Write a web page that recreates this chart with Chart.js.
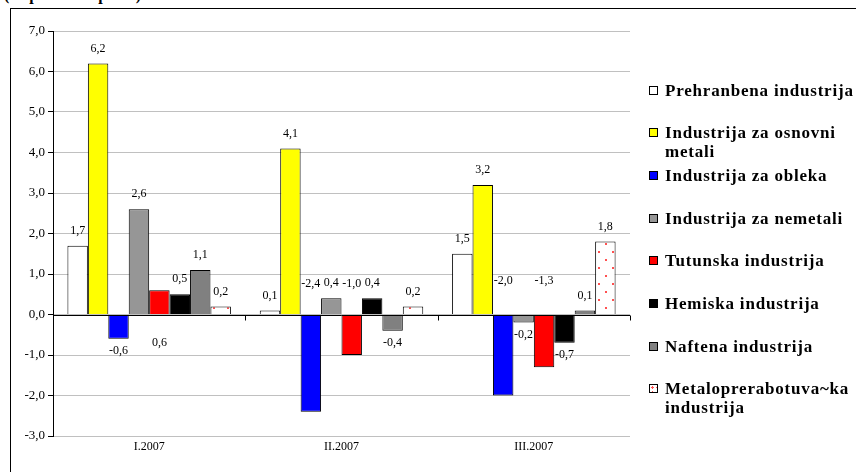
<!DOCTYPE html>
<html>
<head>
<meta charset="utf-8">
<script src="https://cdn.jsdelivr.net/npm/chart.js@4.4.1/dist/chart.umd.min.js"></script>
<style>
  html, body { margin: 0; padding: 0; background: #fff; overflow: hidden; }
  #wrap { position: relative; width: 856px; height: 472px; overflow: hidden; }
  #frame { position: absolute; left: 10px; top: 8px; width: 900px; height: 520px; border: 1px solid #000; box-sizing: border-box; }
  #title { position: absolute; left: 4px; top: -14px; font: bold 16px "Liberation Serif", serif; white-space: nowrap; }
  #myChart { position: absolute; left: 0; top: 0; }
  #legend { position: absolute; left: 0; top: 0; width: 856px; height: 472px; pointer-events: none; }
  .item { position: absolute; left: 649px; font: bold 17px "Liberation Serif", serif; letter-spacing: 0.8px; line-height: 19px; white-space: pre; color: #000; }
  .box { position: absolute; left: 0; top: 5px; width: 9px; height: 9px; border: 1px solid #000; box-sizing: border-box; }
  .txt { position: absolute; left: 16px; top: 0; }
</style>
</head>
<body>
<div id="wrap">
  <div id="frame"></div>
  <div id="title">(vo procenti i poeni)</div>
  <canvas id="myChart" width="856" height="472"></canvas>
  <div id="legend"></div>
</div>
<script>
// podatoci
const categories = ['I.2007', 'II.2007', 'III.2007'];
const seriesNames = [
    'Prehranbena industrija',
    'Industrija za osnovni\nmetali',
    'Industrija za obleka',
    'Industrija za nemetali',
    'Tutunska industrija',
    'Hemiska industrija',
    'Naftena industrija',
    'Metaloprerabotuva~ka\nindustrija'
];
const prehranbena = [1.7, 0.1, 1.5];
const osnovniMetali = [6.2, 4.1, 3.2];
const obleka = [-0.6, -2.4, -2.0];
const nemetali = [2.6, 0.4, -0.2];
const tutunska = [0.6, -1.0, -1.3];
const hemiska = [0.5, 0.4, -0.7];
const naftena = [1.1, -0.4, 0.1];
const metaloprerabotuvacka = [0.2, 0.2, 1.8];
const yTicks = [-3, -2, -1, 0, 1, 2, 3, 4, 5, 6, 7];

// etiketi sto vo originalot se pomesteni (dataset,indeks -> vrednost na y)
const labelAt = {
    '4,0': -0.7,
    '2,1': 0.75,
    '4,1': 0.75,
    '2,2': 0.82,
    '4,2': 0.82
};

function dots() {
    var c = document.createElement('canvas');
    c.width = 14; c.height = 16;
    var g = c.getContext('2d');
    g.fillStyle = '#fff';
    g.fillRect(0, 0, 14, 16);
    g.fillStyle = '#ff5050';
    g.fillRect(3, 3, 2, 2);
    g.fillRect(10, 11, 2, 2);
    return g.createPattern(c, 'repeat');
}

const colors = ['#ffffff', '#ffff00', '#0000ff', '#969696', '#ff0000', '#000000', '#808080', 'dots'];
const values = [prehranbena, osnovniMetali, obleka, nemetali, tutunska, hemiska, naftena, metaloprerabotuvacka];

function fmt(v) {
    return v.toFixed(1).replace('.', ',');
}

const labelsPlugin = {
    id: 'labels',
    afterDatasetsDraw: function (chart) {
        var ctx = chart.ctx;
        var y = chart.scales.y;
        ctx.save();
        // nulta linija i crticki
        ctx.strokeStyle = '#000';
        ctx.lineWidth = 1;
        var y0 = Math.round(y.getPixelForValue(0)) + 0.5;
        ctx.beginPath();
        ctx.moveTo(chart.chartArea.left, y0);
        ctx.lineTo(chart.chartArea.right, y0);
        var step = (chart.chartArea.right - chart.chartArea.left) / categories.length;
        for (var k = 1; k <= categories.length; k++) {
            var tx = Math.round(chart.chartArea.left + step * k) + 0.5;
            ctx.moveTo(tx, y0);
            ctx.lineTo(tx, y0 + 5);
        }
        ctx.stroke();

        ctx.font = '12px "Liberation Serif", serif';
        ctx.fillStyle = '#000';
        ctx.textAlign = 'center';
        ctx.textBaseline = 'middle';
        chart.data.datasets.forEach(function (ds, di) {
            var meta = chart.getDatasetMeta(di);
            meta.data.forEach(function (bar, i) {
                var v = ds.data[i];
                var py;
                var key = di + ',' + i;
                if (labelAt[key] !== undefined) {
                    py = y.getPixelForValue(labelAt[key]);
                } else if (v >= 0) {
                    py = bar.y - 15;
                } else {
                    py = bar.y + 12;
                }
                ctx.fillText(fmt(v), bar.x, py);
            });
        });
        ctx.restore();
    }
};

document.addEventListener('DOMContentLoaded', function () {
    var pattern = dots();
    var datasets = values.map(function (arr, i) {
        return {
            label: seriesNames[i],
            data: arr,
            backgroundColor: colors[i] === 'dots' ? pattern : colors[i],
            borderColor: '#000',
            borderWidth: 1,
            barPercentage: 1.0,
            categoryPercentage: 0.85
        };
    });

    var ctx = document.getElementById('myChart').getContext('2d');
    var chart = new Chart(ctx, {
        type: 'bar',
        data: {
            labels: categories,
            datasets: datasets
        },
        options: {
            responsive: false,
            animation: false,
            layout: { padding: { left: 0, top: 31, right: 226, bottom: 0 } },
            plugins: {
                legend: { display: false },
                tooltip: { enabled: false }
            },
            scales: {
                x: {
                    grid: { display: false, drawTicks: false },
                    border: { display: false },
                    ticks: {
                        color: '#000',
                        padding: 4,
                        font: { family: '"Liberation Serif", serif', size: 12 }
                    },
                    afterFit: function (s) { s.height = 36; }
                },
                y: {
                    min: -3,
                    max: 7,
                    afterBuildTicks: function (s) {
                        s.ticks = yTicks.map(function (v) { return { value: v }; });
                    },
                    grid: {
                        color: '#c0c0c0',
                        tickColor: '#000',
                        tickLength: 5,
                        lineWidth: 1
                    },
                    border: { display: true, color: '#000', width: 1 },
                    ticks: {
                        color: '#000',
                        padding: 3,
                        font: { family: '"Liberation Serif", serif', size: 13 },
                        callback: function (v) { return fmt(v); }
                    },
                    afterFit: function (s) { s.width = 53; }
                }
            }
        },
        plugins: [labelsPlugin]
    });

    // legenda
    var leg = document.getElementById('legend');
    chart.data.datasets.forEach(function (ds, i) {
        var item = document.createElement('div');
        item.className = 'item';
        item.style.top = (90 + i * 42.7 - 9.5) + 'px';
        var box = document.createElement('div');
        box.className = 'box';
        if (colors[i] === 'dots') {
            box.style.background = '#fff';
            box.style.backgroundImage = 'radial-gradient(#ff5050 30%, transparent 31%)';
            box.style.backgroundSize = '5px 5px';
        } else {
            box.style.background = colors[i];
        }
        var t = document.createElement('div');
        t.className = 'txt';
        t.textContent = ds.label;
        item.appendChild(box);
        item.appendChild(t);
        leg.appendChild(item);
    });
});
</script>
</body>
</html>
